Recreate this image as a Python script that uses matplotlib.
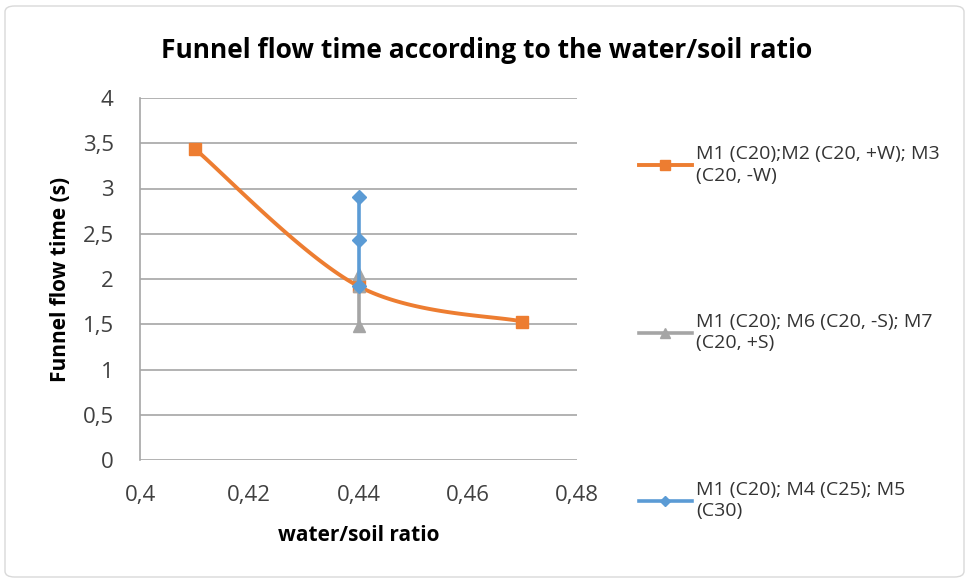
import numpy as np
import matplotlib
matplotlib.use("Agg")
import matplotlib.pyplot as plt
from matplotlib.ticker import FuncFormatter, MultipleLocator
from matplotlib.patches import FancyBboxPatch

plt.rcParams['font.family'] = ['Open Sans', 'DejaVu Sans']

# Data
ratio_w = [0.41, 0.44, 0.47]
time_w = [3.44, 1.92, 1.53]
ratio_s = [0.44, 0.44, 0.44]
time_s = [1.92, 2.05, 1.48]
ratio_c = [0.44, 0.44, 0.44]
time_c = [1.92, 2.43, 2.91]
labels = ["M1 (C20);M2 (C20, +W); M3\n(C20, -W)",
          "M1 (C20); M6 (C20, -S); M7\n(C20, +S)",
          "M1 (C20); M4 (C25); M5\n(C30)"]
title = "Funnel flow time according to the water/soil ratio"
xlabel = "water/soil ratio"
ylabel = "Funnel flow time (s)"

ORANGE = "#ED7D31"
GRAY = "#A5A5A5"
BLUE = "#5B9BD5"

fig = plt.figure(figsize=(9.69, 5.82), dpi=100)
ax = fig.add_axes([140/969, 1-460/582, 437/969, 362/582])
xmin, xmax, ymin, ymax = 0.4, 0.48, 0, 4
ax.set_xlim(xmin, xmax)
ax.set_ylim(ymin, ymax)


def smooth(xs, ys, n=60):
    # Catmull-Rom style Bezier smoothing (Excel-like), in display-proportional space
    sx = 437 / (xmax - xmin)
    sy = 362 / (ymax - ymin)
    P = np.column_stack([np.array(xs) * sx, np.array(ys) * sy])
    out = []
    m = len(P)
    for i in range(m - 1):
        p0 = P[max(i - 1, 0)]
        p1 = P[i]
        p2 = P[i + 1]
        p3 = P[min(i + 2, m - 1)]
        c1 = p1 + (p2 - p0) / 6
        c2 = p2 - (p3 - p1) / 6
        t = np.linspace(0, 1, n)[:, None]
        seg = ((1 - t) ** 3) * p1 + 3 * ((1 - t) ** 2) * t * c1 + 3 * (1 - t) * t ** 2 * c2 + t ** 3 * p2
        out.append(seg if i == 0 else seg[1:])
    out = np.vstack(out)
    return out[:, 0] / sx, out[:, 1] / sy


cx, cy = smooth(ratio_w, time_w)
ax.plot(cx, cy, color=ORANGE, lw=2.8, zorder=3, solid_capstyle='round')
ax.plot(ratio_w, time_w, ls='none', marker='s', ms=9, color=ORANGE, zorder=3)
ax.plot(ratio_s, time_s, color=GRAY, lw=2.6, marker='^', ms=9, zorder=4)
ax.plot(ratio_c, time_c, color=BLUE, lw=2.6, marker='D', ms=7, zorder=5)

# legend handles
h1 = plt.Line2D([], [], color=ORANGE, lw=2.8, marker='s', ms=7)
h2 = plt.Line2D([], [], color=GRAY, lw=2.6, marker='^', ms=7)
h3 = plt.Line2D([], [], color=BLUE, lw=2.6, marker='D', ms=5)
leg = fig.legend([h1, h2, h3], labels, loc='upper left', bbox_to_anchor=(639/969, 1-145/582),
                 frameon=False, fontsize=14, labelspacing=6.6, handlelength=2.7,
                 handletextpad=0.25, borderaxespad=0, borderpad=0, alignment='left')
for t in leg.get_texts():
    t.set_linespacing(1.25)
    t.set_color('#333333')

fmt = FuncFormatter(lambda v, p: ('%g' % round(v, 4)).replace('.', ','))
ax.xaxis.set_major_locator(MultipleLocator(0.02))
ax.yaxis.set_major_locator(MultipleLocator(0.5))
ax.xaxis.set_major_formatter(fmt)
ax.yaxis.set_major_formatter(fmt)
ax.tick_params(axis='both', length=0, labelsize=16, labelcolor='#404040')
ax.tick_params(axis='x', pad=18)
ax.tick_params(axis='y', pad=19)
ax.grid(axis='y', color='#A6A6A6', lw=1.2)
ax.set_axisbelow(True)
for s in ['top', 'right', 'bottom']:
    ax.spines[s].set_visible(False)
ax.spines['left'].set_color('#A6A6A6')
ax.spines['left'].set_linewidth(1.2)

ax.set_xlabel(xlabel, fontsize=15, fontweight='bold', labelpad=14)
ax.set_ylabel(ylabel, fontsize=15, fontweight='bold', labelpad=8)
fig.text(487/969, 1-50/582, title, ha='center', va='center', fontsize=19, fontweight='bold')

border = FancyBboxPatch((5/969, 5/582), 959/969, 571/582, boxstyle='round,pad=0,rounding_size=0.01',
                        transform=fig.transFigure, fill=False, edgecolor='#D9D9D9', lw=1)
fig.patches.append(border)

fig.savefig("out.png", dpi=100)
